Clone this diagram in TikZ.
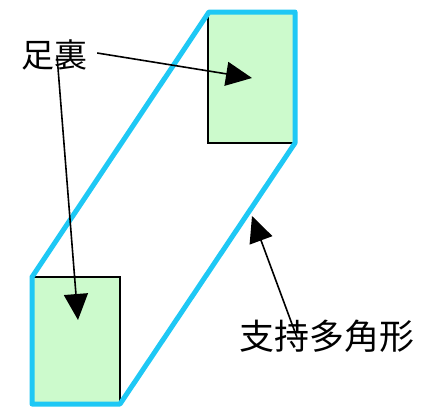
\documentclass[tikz,border=0pt]{standalone}
\usepackage{fontspec}
\newfontfamily\cjk{Noto Sans CJK JP}
\usetikzlibrary{arrows.meta}
\definecolor{polyblue}{RGB}{30,200,245}
\definecolor{solegreen}{RGB}{204,250,204}

\begin{document}
\begin{tikzpicture}[x=1pt,y=-1pt,
  sole/.style={draw=black, line width=2pt, fill=solegreen, inner sep=0pt},
  support/.style={draw=polyblue, line width=5pt, line join=round},
  pointer/.style={draw=black, line width=1.6pt, -{Triangle[length=26pt,width=24pt]}},
  label/.style={font=\cjk\fontsize{33}{37}\selectfont, inner sep=0pt}]
\useasboundingbox (0,0) rectangle (421,408);
\fill[white] (0,0) rectangle (421,408);

% the two soles
\node[sole, minimum width=87pt, minimum height=131pt] (upper) at (251.5,77.5) {};
\node[sole, minimum width=88pt, minimum height=127pt] (lower) at (76,340.5) {};

% support polygon around both soles
\draw[support] (32,277) -- (209,12) -- (295,12) -- (295,143) -- (120,404) -- (32,404) -- cycle;

% labels
\node[label] (solelabel) at (54,55) {足裏};
\node[label, font=\cjk\fontsize{35}{39}\selectfont] (polylabel) at (327,336) {支持多角形};

% arrow tips
\coordinate (tipupper) at (252,78);
\coordinate (tiplower) at (78,320);
\coordinate (tippoly) at (252,216);

\draw[pointer] ([xshift=10pt,yshift=2pt]solelabel.east) -- (tipupper);
\draw[pointer] ([xshift=3pt,yshift=15pt]solelabel.south) -- (tiplower);
\draw[pointer] ([xshift=-30pt,yshift=-18pt]polylabel.north) -- (tippoly);
\end{tikzpicture}
\end{document}
